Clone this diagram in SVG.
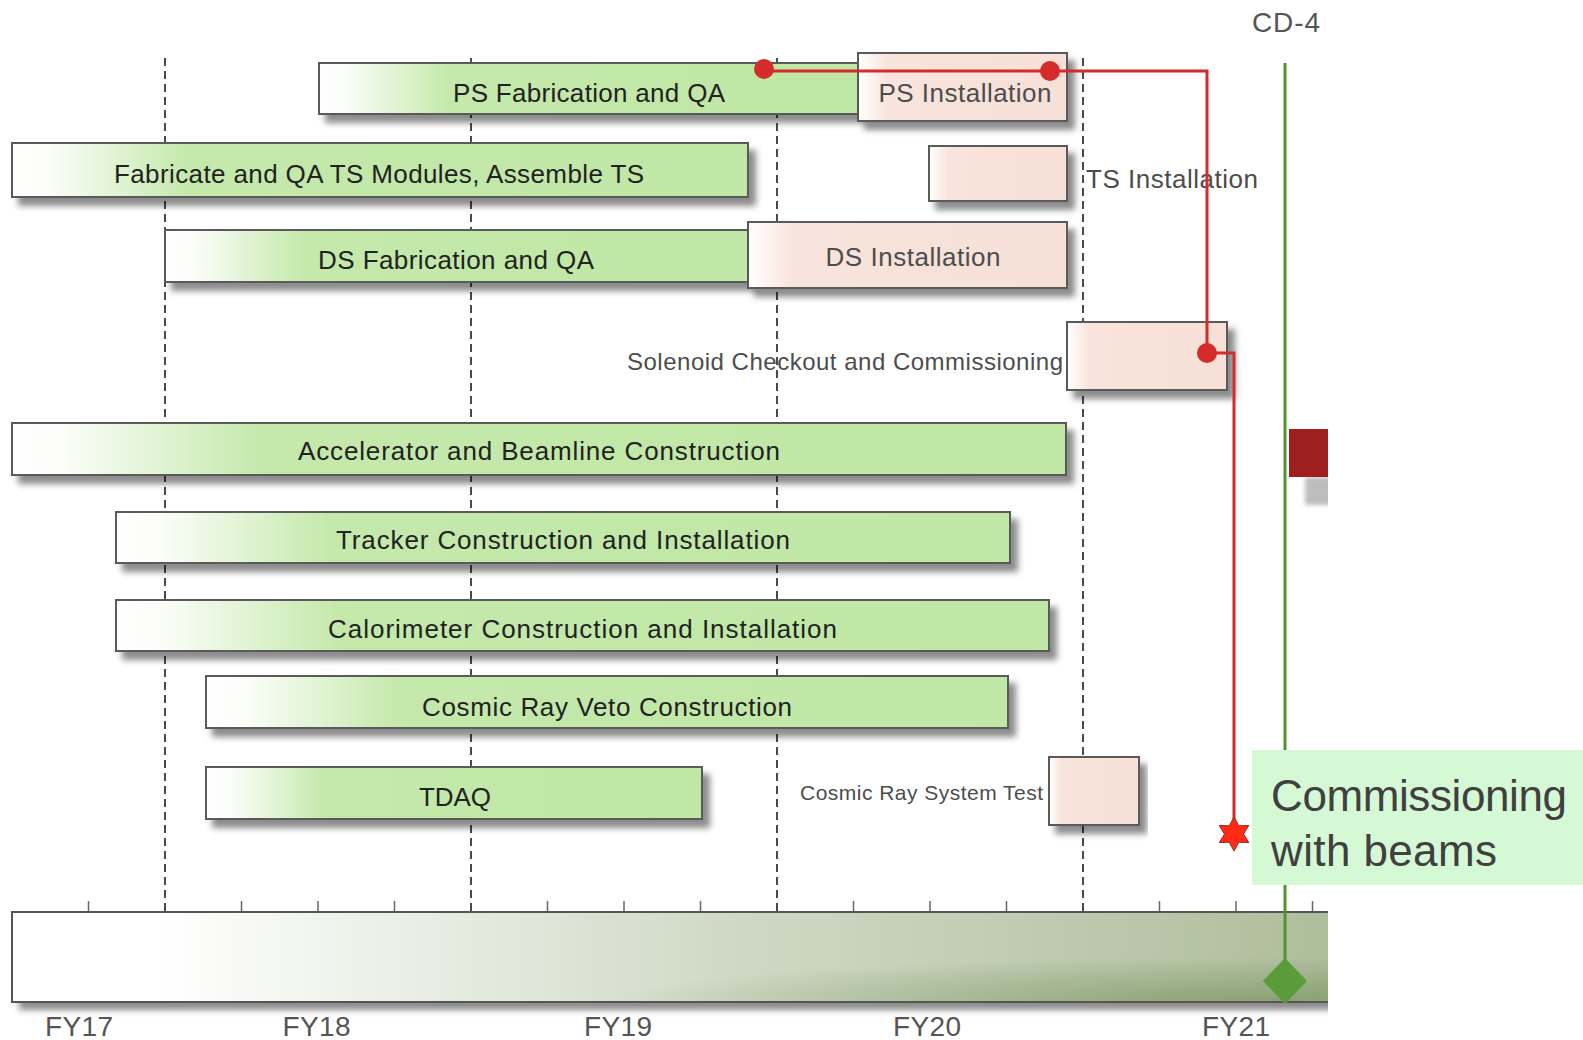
<svg xmlns="http://www.w3.org/2000/svg" width="1583" height="1040" viewBox="0 0 1583 1040">
  <style>
    text { font-family: "Liberation Sans", Arial, sans-serif; }
    .bar { fill: url(#gBar); stroke: #5a5a5a; stroke-width: 2; filter: url(#shadow); }
    .box { fill: url(#gBox); stroke: #5a5a5a; stroke-width: 2; filter: url(#shadow); }
    .lbl { font-size: 26px; fill: #222; text-anchor: middle; }
    .glbl { font-size: 26px; fill: #4d4d4d; }
    .fy { font-size: 28px; fill: #555; text-anchor: middle; }
    .grid { stroke: #4a4a4a; stroke-width: 2; stroke-dasharray: 8 5; fill: none; }
    .tick { stroke: #666; stroke-width: 1.5; }
    .link { stroke: #d42b2b; stroke-width: 3; fill: none; }
    .dot { fill: #d42b2b; }
  </style>
  <defs>
    <linearGradient id="gBar" x1="0" y1="0" x2="1" y2="0">
      <stop offset="0" stop-color="#ffffff"/>
      <stop offset="0.05" stop-color="#fbfdf9"/>
      <stop offset="0.24" stop-color="#c4e9ab"/>
      <stop offset="1" stop-color="#c0e7a5"/>
    </linearGradient>
    <linearGradient id="gBox" x1="0" y1="0" x2="1" y2="0">
      <stop offset="0" stop-color="#ffffff"/>
      <stop offset="0.14" stop-color="#f8e4dc"/>
      <stop offset="1" stop-color="#f6e0d7"/>
    </linearGradient>
    <linearGradient id="gAxis" x1="0" y1="0" x2="1" y2="0">
      <stop offset="0" stop-color="#ffffff"/>
      <stop offset="0.11" stop-color="#ffffff"/>
      <stop offset="0.3" stop-color="#eaeee5"/>
      <stop offset="0.55" stop-color="#cfd8c4"/>
      <stop offset="0.8" stop-color="#bdc9ae"/>
      <stop offset="1" stop-color="#aebd9b"/>
    </linearGradient>
    <radialGradient id="gAxisShade" cx="0.95" cy="1" r="0.5">
      <stop offset="0" stop-color="#6f8c55" stop-opacity="0.6"/>
      <stop offset="1" stop-color="#6f8c55" stop-opacity="0"/>
    </radialGradient>
    <filter id="shadow" x="-5%" y="-20%" width="115%" height="160%">
      <feDropShadow dx="7" dy="8" stdDeviation="3" flood-color="#000" flood-opacity="0.45"/>
    </filter>
    <filter id="soft" x="-50%" y="-50%" width="200%" height="200%">
      <feGaussianBlur stdDeviation="2"/>
    </filter>
    <clipPath id="edge">
      <rect x="0" y="0" width="1328" height="1040"/>
    </clipPath>
  </defs>

  <rect width="1583" height="1040" fill="#ffffff"/>

  <!-- fiscal-year grid -->
  <g id="grid">
    <line class="grid" x1="165" y1="58" x2="165" y2="912"/>
    <line class="grid" x1="471" y1="58" x2="471" y2="912"/>
    <line class="grid" x1="777" y1="58" x2="777" y2="912"/>
    <line class="grid" x1="1083" y1="58" x2="1083" y2="912"/>
  </g>

  <!-- timeline axis -->
  <g id="axis" clip-path="url(#edge)">
    <g>
      <line class="tick" x1="88.5" y1="901" x2="88.5" y2="912"/>
      <line class="tick" x1="241.5" y1="901" x2="241.5" y2="912"/>
      <line class="tick" x1="318" y1="901" x2="318" y2="912"/>
      <line class="tick" x1="394.5" y1="901" x2="394.5" y2="912"/>
      <line class="tick" x1="547.5" y1="901" x2="547.5" y2="912"/>
      <line class="tick" x1="624" y1="901" x2="624" y2="912"/>
      <line class="tick" x1="700.5" y1="901" x2="700.5" y2="912"/>
      <line class="tick" x1="853.5" y1="901" x2="853.5" y2="912"/>
      <line class="tick" x1="930" y1="901" x2="930" y2="912"/>
      <line class="tick" x1="1006.5" y1="901" x2="1006.5" y2="912"/>
      <line class="tick" x1="1159.5" y1="901" x2="1159.5" y2="912"/>
      <line class="tick" x1="1236" y1="901" x2="1236" y2="912"/>
      <line class="tick" x1="1312.5" y1="901" x2="1312.5" y2="912"/>
    </g>
    <rect x="12" y="912" width="1330" height="90" fill="url(#gAxis)" filter="url(#shadow)"/>
    <rect x="12" y="912" width="1330" height="90" fill="url(#gAxisShade)"/>
    <path d="M1342 912 H12 V1002 H1342" fill="none" stroke="#555" stroke-width="2"/>
    <!-- milestone block at the right edge -->
    <rect x="1305" y="477" width="30" height="28" fill="#bdbdbd" filter="url(#soft)"/>
    <rect x="1289" y="429" width="50" height="48" fill="#9e1f1f"/>
  </g>
  <g id="fy-labels">
    <text class="fy" x="79" y="1036" textLength="68">FY17</text>
    <text class="fy" x="316.5" y="1036" textLength="68">FY18</text>
    <text class="fy" x="618" y="1036" textLength="68">FY19</text>
    <text class="fy" x="927" y="1036" textLength="68">FY20</text>
    <text class="fy" x="1236" y="1036" textLength="68">FY21</text>
  </g>

  <!-- task bars -->
  <g id="ps-fab">
    <rect class="bar" x="319" y="63" width="539" height="51"/>
    <text class="lbl" x="589" y="102" textLength="272">PS Fabrication and QA</text>
  </g>
  <g id="ps-install">
    <rect class="box" x="858" y="53" width="209" height="68"/>
    <text class="lbl" x="965" y="102" textLength="173" style="fill:#4d4d4d">PS Installation</text>
  </g>
  <g id="ts-fab">
    <rect class="bar" x="12" y="143" width="736" height="54"/>
    <text class="lbl" x="379" y="183" textLength="530">Fabricate and QA TS Modules, Assemble TS</text>
  </g>
  <g id="ts-install">
    <rect class="box" x="929" y="146" width="138" height="55"/>
    <text class="glbl" x="1086" y="188" textLength="172">TS Installation</text>
  </g>
  <g id="ds-fab">
    <rect class="bar" x="165" y="230" width="583" height="52"/>
    <text class="lbl" x="456" y="269" textLength="276">DS Fabrication and QA</text>
  </g>
  <g id="ds-install">
    <rect class="box" x="748" y="222" width="319" height="66"/>
    <text class="lbl" x="913" y="266" textLength="175" style="fill:#4d4d4d">DS Installation</text>
  </g>
  <g id="solenoid">
    <rect class="box" x="1067" y="322" width="160" height="68"/>
    <text class="glbl" x="1063" y="370" text-anchor="end" textLength="436" style="font-size:24px">Solenoid Checkout and Commissioning</text>
  </g>
  <g id="accelerator">
    <rect class="bar" x="12" y="423" width="1054" height="52"/>
    <text class="lbl" x="539" y="460" textLength="482">Accelerator and Beamline Construction</text>
  </g>
  <g id="tracker">
    <rect class="bar" x="116" y="512" width="894" height="51"/>
    <text class="lbl" x="563" y="549" textLength="454">Tracker Construction and Installation</text>
  </g>
  <g id="calorimeter">
    <rect class="bar" x="116" y="600" width="933" height="51"/>
    <text class="lbl" x="582.5" y="638" textLength="509">Calorimeter Construction and Installation</text>
  </g>
  <g id="crv">
    <rect class="bar" x="206" y="676" width="802" height="52"/>
    <text class="lbl" x="607" y="716" textLength="370">Cosmic Ray Veto Construction</text>
  </g>
  <g id="tdaq">
    <rect class="bar" x="206" y="767" width="496" height="52"/>
    <text class="lbl" x="455" y="806" textLength="72">TDAQ</text>
  </g>
  <g id="cr-test">
    <rect class="box" x="1049" y="757" width="90" height="68"/>
    <text class="glbl" x="1043" y="800" text-anchor="end" textLength="243" style="font-size:21px">Cosmic Ray System Test</text>
  </g>

  <!-- CD-4 milestone -->
  <g id="cd4">
    <text x="1286" y="32" text-anchor="middle" font-size="28" fill="#555" textLength="68">CD-4</text>
    <line x1="1285" y1="63" x2="1285" y2="981" stroke="#4c962c" stroke-width="3"/>
    <polygon points="1285,958 1307,981 1285,1004 1263,981" fill="#5b9b3a"/>
  </g>

  <!-- dependency links -->
  <g id="connectors">
    <path class="link" d="M764 71 H1207 V353 H1234 V834"/>
    <circle class="dot" cx="764" cy="69" r="10"/>
    <circle class="dot" cx="1050" cy="71" r="10"/>
    <circle class="dot" cx="1207" cy="353" r="10"/>
    <polygon transform="translate(1234 834)" points="0,-17 4.75,-8.23 14.72,-8.5 9.5,0 14.72,8.5 4.75,8.23 0,17 -4.75,8.23 -14.72,8.5 -9.5,0 -14.72,-8.5 -4.75,-8.23" fill="#ff2b14" stroke="#a8231a" stroke-width="1"/>
  </g>

  <!-- callout -->
  <g id="commissioning">
    <rect x="1252" y="750" width="331" height="135" fill="#d4f9d4"/>
    <text x="1271" y="811" font-size="44" fill="#404040" textLength="296">Commissioning</text>
    <text x="1271" y="866" font-size="44" fill="#404040" textLength="226">with beams</text>
  </g>
</svg>
